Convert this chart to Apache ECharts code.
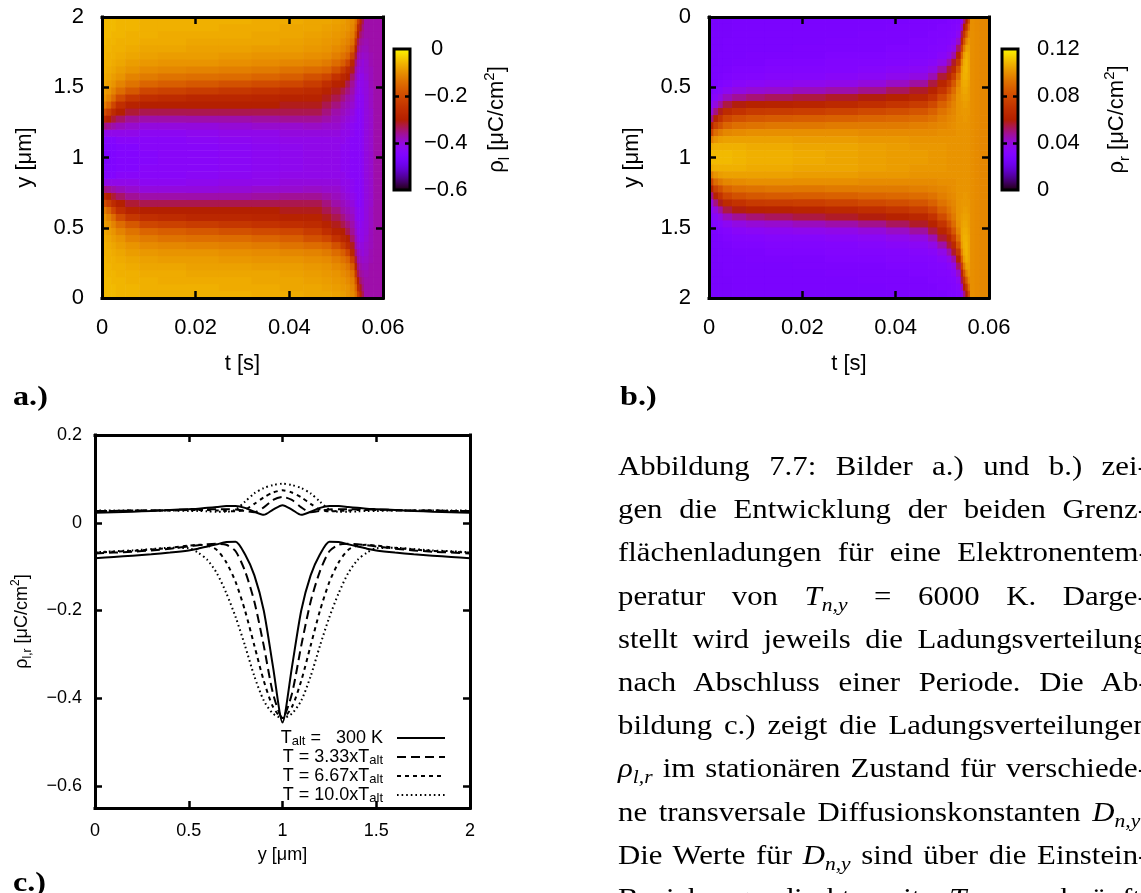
<!DOCTYPE html>
<html>
<head>
<meta charset="utf-8">
<title>Grenzflächenladungen</title>
<script src="https://cdn.jsdelivr.net/npm/echarts@6.0.0/dist/echarts.min.js"></script>
<style>
  html, body { margin: 0; padding: 0; background: #fff; overflow: hidden; width: 1141px; height: 893px; }
  #chart { position: absolute; left: 0; top: 0; width: 1141px; height: 893px; }
  .serif { font-family: "Liberation Serif", "Times New Roman", serif; color: #000; }
  #caption { position: absolute; left: 618px; top: 444px; width: 482px; font-size: 28px; line-height: 43.2px; transform: scaleX(1.1); transform-origin: 0 0; }
  #caption .ln { height: 43.2px; white-space: nowrap; }
  #caption .ln > span { display: inline-block; white-space: nowrap; }
  #caption sub { font-size: 0.7em; vertical-align: -0.32em; line-height: 0; }
  .tag { position: absolute; font-size: 28px; font-weight: bold; line-height: 28px; transform: scaleX(1.15); transform-origin: 0 0; }
</style>
</head>
<body>
<div id="chart"></div>
<div id="caption" class="serif">
  <div class="ln"><span>Abbildung 7.7: Bilder a.) und b.) zei-</span></div>
  <div class="ln"><span>gen die Entwicklung der beiden Grenz-</span></div>
  <div class="ln"><span>flächenladungen für eine Elektronentem-</span></div>
  <div class="ln"><span>peratur von <i>T</i><sub><i>n,y</i></sub> = 6000 K. Darge-</span></div>
  <div class="ln"><span>stellt wird jeweils die Ladungsverteilung</span></div>
  <div class="ln"><span>nach Abschluss einer Periode. Die Ab-</span></div>
  <div class="ln"><span>bildung c.) zeigt die Ladungsverteilungen</span></div>
  <div class="ln"><span><i>ρ</i><sub><i>l,r</i></sub> im stationären Zustand für verschiede-</span></div>
  <div class="ln"><span>ne transversale Diffusionskonstanten <i>D</i><sub><i>n,y</i></sub>.</span></div>
  <div class="ln"><span>Die Werte für <i>D</i><sub><i>n,y</i></sub> sind über die Einstein-</span></div>
  <div class="ln"><span>Beziehung direkt mit <i>T</i><sub><i>n,y</i></sub> verknüpft.</span></div>
</div>
<div class="tag serif" style="left:13px;top:382px">a.)</div>
<div class="tag serif" style="left:620px;top:382px">b.)</div>
<div class="tag serif" style="left:13px;top:868px">c.)</div>
<script>
// ---------- panels a.) and b.): interface charge maps rho(t, y) ----------
// time cell edges [s]
const tColumnEdges = [0, 0.001, 0.002, 0.003, 0.005, 0.008, 0.012, 0.018, 0.025, 0.032, 0.038, 0.043, 0.047, 0.049, 0.051, 0.052, 0.053, 0.054, 0.0545, 0.055, 0.0555, 0.056, 0.057, 0.058, 0.06];
// transversal cell edges [um]
const yRowEdges = [0, 0.05, 0.1, 0.15, 0.2, 0.25, 0.3, 0.35, 0.4, 0.45, 0.5, 0.55, 0.6, 0.65, 0.7, 0.75, 0.8, 0.85, 0.9, 0.95, 1, 1.05, 1.1, 1.15, 1.2, 1.25, 1.3, 1.35, 1.4, 1.45, 1.5, 1.55, 1.6, 1.65, 1.7, 1.75, 1.8, 1.85, 1.9, 1.95, 2];

// rho_l [uC/cm^2], one column per time cell, rows from y = 0 to y = 2 um
const rhoLeft = [
  [-0.06,-0.06,-0.06,-0.06,-0.065,-0.065,-0.07,-0.07,-0.075,-0.08,-0.09,-0.1,-0.13,-0.2,-0.28,-0.35,-0.41,-0.44,-0.45,-0.46,-0.46,-0.45,-0.44,-0.41,-0.35,-0.28,-0.2,-0.13,-0.1,-0.09,-0.08,-0.075,-0.07,-0.07,-0.065,-0.065,-0.06,-0.06,-0.06,-0.06],
  [-0.06,-0.06,-0.06,-0.065,-0.065,-0.07,-0.07,-0.075,-0.08,-0.09,-0.1,-0.12,-0.16,-0.23,-0.3,-0.36,-0.41,-0.44,-0.45,-0.455,-0.455,-0.45,-0.44,-0.41,-0.36,-0.3,-0.23,-0.16,-0.12,-0.1,-0.09,-0.08,-0.075,-0.07,-0.07,-0.065,-0.065,-0.06,-0.06,-0.06],
  [-0.06,-0.06,-0.065,-0.065,-0.07,-0.07,-0.075,-0.08,-0.09,-0.1,-0.12,-0.15,-0.21,-0.27,-0.32,-0.37,-0.41,-0.44,-0.45,-0.45,-0.45,-0.45,-0.44,-0.41,-0.37,-0.32,-0.27,-0.21,-0.15,-0.12,-0.1,-0.09,-0.08,-0.075,-0.07,-0.07,-0.065,-0.065,-0.06,-0.06],
  [-0.065,-0.065,-0.065,-0.07,-0.07,-0.075,-0.08,-0.09,-0.1,-0.12,-0.15,-0.2,-0.26,-0.3,-0.34,-0.38,-0.41,-0.43,-0.44,-0.44,-0.44,-0.44,-0.43,-0.41,-0.38,-0.34,-0.3,-0.26,-0.2,-0.15,-0.12,-0.1,-0.09,-0.08,-0.075,-0.07,-0.07,-0.065,-0.065,-0.065],
  [-0.065,-0.065,-0.07,-0.07,-0.075,-0.08,-0.09,-0.1,-0.12,-0.14,-0.18,-0.24,-0.29,-0.32,-0.36,-0.39,-0.41,-0.43,-0.44,-0.44,-0.44,-0.44,-0.43,-0.41,-0.39,-0.36,-0.32,-0.29,-0.24,-0.18,-0.14,-0.12,-0.1,-0.09,-0.08,-0.075,-0.07,-0.07,-0.065,-0.065],
  [-0.07,-0.07,-0.07,-0.075,-0.08,-0.085,-0.095,-0.11,-0.13,-0.16,-0.21,-0.26,-0.3,-0.33,-0.37,-0.4,-0.42,-0.43,-0.43,-0.435,-0.435,-0.43,-0.43,-0.42,-0.4,-0.37,-0.33,-0.3,-0.26,-0.21,-0.16,-0.13,-0.11,-0.095,-0.085,-0.08,-0.075,-0.07,-0.07,-0.07],
  [-0.07,-0.07,-0.075,-0.075,-0.08,-0.09,-0.1,-0.115,-0.14,-0.17,-0.22,-0.27,-0.3,-0.33,-0.37,-0.4,-0.42,-0.43,-0.43,-0.43,-0.43,-0.43,-0.43,-0.42,-0.4,-0.37,-0.33,-0.3,-0.27,-0.22,-0.17,-0.14,-0.115,-0.1,-0.09,-0.08,-0.075,-0.075,-0.07,-0.07],
  [-0.07,-0.07,-0.075,-0.08,-0.085,-0.09,-0.1,-0.12,-0.145,-0.18,-0.23,-0.28,-0.3,-0.33,-0.37,-0.4,-0.415,-0.425,-0.43,-0.43,-0.43,-0.43,-0.425,-0.415,-0.4,-0.37,-0.33,-0.3,-0.28,-0.23,-0.18,-0.145,-0.12,-0.1,-0.09,-0.085,-0.08,-0.075,-0.07,-0.07],
  [-0.07,-0.075,-0.075,-0.08,-0.085,-0.095,-0.105,-0.125,-0.15,-0.19,-0.24,-0.28,-0.3,-0.33,-0.37,-0.395,-0.41,-0.42,-0.425,-0.425,-0.425,-0.425,-0.42,-0.41,-0.395,-0.37,-0.33,-0.3,-0.28,-0.24,-0.19,-0.15,-0.125,-0.105,-0.095,-0.085,-0.08,-0.075,-0.075,-0.07],
  [-0.075,-0.075,-0.08,-0.08,-0.09,-0.1,-0.11,-0.13,-0.16,-0.2,-0.25,-0.285,-0.3,-0.33,-0.365,-0.39,-0.41,-0.415,-0.42,-0.42,-0.42,-0.42,-0.415,-0.41,-0.39,-0.365,-0.33,-0.3,-0.285,-0.25,-0.2,-0.16,-0.13,-0.11,-0.1,-0.09,-0.08,-0.08,-0.075,-0.075],
  [-0.075,-0.08,-0.08,-0.085,-0.09,-0.1,-0.115,-0.14,-0.17,-0.21,-0.26,-0.29,-0.31,-0.33,-0.36,-0.39,-0.4,-0.41,-0.415,-0.415,-0.415,-0.415,-0.41,-0.4,-0.39,-0.36,-0.33,-0.31,-0.29,-0.26,-0.21,-0.17,-0.14,-0.115,-0.1,-0.09,-0.085,-0.08,-0.08,-0.075],
  [-0.08,-0.08,-0.085,-0.09,-0.095,-0.105,-0.12,-0.15,-0.19,-0.23,-0.27,-0.29,-0.31,-0.33,-0.36,-0.385,-0.4,-0.41,-0.41,-0.41,-0.41,-0.41,-0.41,-0.4,-0.385,-0.36,-0.33,-0.31,-0.29,-0.27,-0.23,-0.19,-0.15,-0.12,-0.105,-0.095,-0.09,-0.085,-0.08,-0.08],
  [-0.08,-0.085,-0.09,-0.095,-0.1,-0.11,-0.13,-0.16,-0.21,-0.26,-0.29,-0.31,-0.33,-0.35,-0.37,-0.39,-0.4,-0.41,-0.41,-0.41,-0.41,-0.41,-0.41,-0.4,-0.39,-0.37,-0.35,-0.33,-0.31,-0.29,-0.26,-0.21,-0.16,-0.13,-0.11,-0.1,-0.095,-0.09,-0.085,-0.08],
  [-0.085,-0.09,-0.095,-0.1,-0.11,-0.125,-0.15,-0.19,-0.25,-0.29,-0.31,-0.33,-0.35,-0.37,-0.38,-0.39,-0.4,-0.41,-0.41,-0.41,-0.41,-0.41,-0.41,-0.4,-0.39,-0.38,-0.37,-0.35,-0.33,-0.31,-0.29,-0.25,-0.19,-0.15,-0.125,-0.11,-0.1,-0.095,-0.09,-0.085],
  [-0.09,-0.095,-0.1,-0.11,-0.12,-0.14,-0.17,-0.23,-0.28,-0.3,-0.33,-0.35,-0.37,-0.38,-0.39,-0.4,-0.41,-0.41,-0.42,-0.42,-0.42,-0.42,-0.41,-0.41,-0.4,-0.39,-0.38,-0.37,-0.35,-0.33,-0.3,-0.28,-0.23,-0.17,-0.14,-0.12,-0.11,-0.1,-0.095,-0.09],
  [-0.1,-0.1,-0.11,-0.12,-0.135,-0.16,-0.21,-0.27,-0.3,-0.33,-0.35,-0.37,-0.38,-0.39,-0.4,-0.41,-0.41,-0.42,-0.42,-0.42,-0.42,-0.42,-0.42,-0.41,-0.41,-0.4,-0.39,-0.38,-0.37,-0.35,-0.33,-0.3,-0.27,-0.21,-0.16,-0.135,-0.12,-0.11,-0.1,-0.1],
  [-0.11,-0.115,-0.125,-0.14,-0.17,-0.22,-0.28,-0.31,-0.34,-0.36,-0.37,-0.38,-0.39,-0.4,-0.41,-0.42,-0.42,-0.43,-0.43,-0.43,-0.43,-0.43,-0.43,-0.42,-0.42,-0.41,-0.4,-0.39,-0.38,-0.37,-0.36,-0.34,-0.31,-0.28,-0.22,-0.17,-0.14,-0.125,-0.115,-0.11],
  [-0.14,-0.16,-0.19,-0.24,-0.29,-0.32,-0.35,-0.37,-0.38,-0.39,-0.4,-0.41,-0.41,-0.42,-0.42,-0.43,-0.43,-0.43,-0.43,-0.43,-0.43,-0.43,-0.43,-0.43,-0.43,-0.42,-0.42,-0.41,-0.41,-0.4,-0.39,-0.38,-0.37,-0.35,-0.32,-0.29,-0.24,-0.19,-0.16,-0.14],
  [-0.22,-0.27,-0.3,-0.33,-0.35,-0.37,-0.38,-0.39,-0.4,-0.41,-0.41,-0.42,-0.42,-0.43,-0.43,-0.43,-0.43,-0.43,-0.43,-0.43,-0.43,-0.43,-0.43,-0.43,-0.43,-0.43,-0.43,-0.42,-0.42,-0.41,-0.41,-0.4,-0.39,-0.38,-0.37,-0.35,-0.33,-0.3,-0.27,-0.22],
  [-0.28,-0.31,-0.34,-0.36,-0.37,-0.38,-0.39,-0.4,-0.41,-0.41,-0.42,-0.42,-0.42,-0.43,-0.43,-0.43,-0.43,-0.43,-0.43,-0.43,-0.43,-0.43,-0.43,-0.43,-0.43,-0.43,-0.43,-0.42,-0.42,-0.42,-0.41,-0.41,-0.4,-0.39,-0.38,-0.37,-0.36,-0.34,-0.31,-0.28],
  [-0.33,-0.35,-0.36,-0.37,-0.38,-0.39,-0.4,-0.4,-0.41,-0.41,-0.41,-0.42,-0.42,-0.42,-0.42,-0.42,-0.42,-0.42,-0.42,-0.42,-0.42,-0.42,-0.42,-0.42,-0.42,-0.42,-0.42,-0.42,-0.42,-0.41,-0.41,-0.41,-0.4,-0.4,-0.39,-0.38,-0.37,-0.36,-0.35,-0.33],
  [-0.37,-0.37,-0.37,-0.375,-0.38,-0.385,-0.39,-0.39,-0.395,-0.4,-0.4,-0.4,-0.4,-0.4,-0.4,-0.4,-0.4,-0.4,-0.4,-0.4,-0.4,-0.4,-0.4,-0.4,-0.4,-0.4,-0.4,-0.4,-0.4,-0.4,-0.4,-0.395,-0.39,-0.39,-0.385,-0.38,-0.375,-0.37,-0.37,-0.37],
  [-0.37,-0.37,-0.37,-0.37,-0.37,-0.375,-0.375,-0.38,-0.38,-0.38,-0.385,-0.385,-0.385,-0.39,-0.39,-0.39,-0.39,-0.39,-0.39,-0.39,-0.39,-0.39,-0.39,-0.39,-0.39,-0.39,-0.39,-0.385,-0.385,-0.385,-0.38,-0.38,-0.38,-0.375,-0.375,-0.37,-0.37,-0.37,-0.37,-0.37],
  [-0.37,-0.37,-0.37,-0.37,-0.37,-0.37,-0.37,-0.37,-0.37,-0.37,-0.37,-0.37,-0.37,-0.37,-0.37,-0.37,-0.37,-0.37,-0.37,-0.37,-0.37,-0.37,-0.37,-0.37,-0.37,-0.37,-0.37,-0.37,-0.37,-0.37,-0.37,-0.37,-0.37,-0.37,-0.37,-0.37,-0.37,-0.37,-0.37,-0.37]
];

// rho_r [uC/cm^2], same cells
const rhoRight = [
  [0.027,0.027,0.027,0.027,0.027,0.027,0.027,0.027,0.027,0.028,0.029,0.031,0.034,0.04,0.05,0.062,0.078,0.095,0.105,0.108,0.108,0.105,0.095,0.078,0.062,0.05,0.04,0.034,0.031,0.029,0.028,0.027,0.027,0.027,0.027,0.027,0.027,0.027,0.027,0.027],
  [0.027,0.027,0.027,0.027,0.027,0.027,0.027,0.028,0.028,0.029,0.031,0.034,0.04,0.05,0.062,0.076,0.09,0.1,0.106,0.108,0.108,0.106,0.1,0.09,0.076,0.062,0.05,0.04,0.034,0.031,0.029,0.028,0.028,0.027,0.027,0.027,0.027,0.027,0.027,0.027],
  [0.027,0.027,0.027,0.027,0.027,0.028,0.028,0.028,0.029,0.03,0.033,0.038,0.047,0.058,0.07,0.082,0.094,0.102,0.106,0.108,0.108,0.106,0.102,0.094,0.082,0.07,0.058,0.047,0.038,0.033,0.03,0.029,0.028,0.028,0.028,0.027,0.027,0.027,0.027,0.027],
  [0.027,0.027,0.027,0.028,0.028,0.028,0.028,0.029,0.03,0.032,0.036,0.044,0.055,0.066,0.078,0.088,0.097,0.103,0.106,0.108,0.108,0.106,0.103,0.097,0.088,0.078,0.066,0.055,0.044,0.036,0.032,0.03,0.029,0.028,0.028,0.028,0.028,0.027,0.027,0.027],
  [0.028,0.028,0.028,0.028,0.028,0.028,0.029,0.03,0.031,0.034,0.039,0.048,0.059,0.07,0.082,0.091,0.098,0.103,0.106,0.107,0.107,0.106,0.103,0.098,0.091,0.082,0.07,0.059,0.048,0.039,0.034,0.031,0.03,0.029,0.028,0.028,0.028,0.028,0.028,0.028],
  [0.028,0.028,0.028,0.028,0.028,0.029,0.029,0.03,0.032,0.035,0.041,0.051,0.061,0.073,0.084,0.092,0.099,0.103,0.105,0.106,0.106,0.105,0.103,0.099,0.092,0.084,0.073,0.061,0.051,0.041,0.035,0.032,0.03,0.029,0.029,0.028,0.028,0.028,0.028,0.028],
  [0.028,0.028,0.028,0.028,0.028,0.029,0.03,0.031,0.033,0.036,0.042,0.053,0.062,0.074,0.085,0.093,0.099,0.103,0.105,0.106,0.106,0.105,0.103,0.099,0.093,0.085,0.074,0.062,0.053,0.042,0.036,0.033,0.031,0.03,0.029,0.028,0.028,0.028,0.028,0.028],
  [0.028,0.028,0.028,0.028,0.029,0.029,0.03,0.031,0.033,0.037,0.044,0.055,0.063,0.075,0.086,0.093,0.099,0.102,0.104,0.105,0.105,0.104,0.102,0.099,0.093,0.086,0.075,0.063,0.055,0.044,0.037,0.033,0.031,0.03,0.029,0.029,0.028,0.028,0.028,0.028],
  [0.028,0.028,0.028,0.029,0.029,0.03,0.031,0.032,0.034,0.038,0.046,0.057,0.065,0.077,0.087,0.094,0.099,0.102,0.104,0.104,0.104,0.104,0.102,0.099,0.094,0.087,0.077,0.065,0.057,0.046,0.038,0.034,0.032,0.031,0.03,0.029,0.029,0.028,0.028,0.028],
  [0.028,0.028,0.029,0.029,0.029,0.03,0.031,0.033,0.035,0.04,0.049,0.059,0.068,0.079,0.088,0.094,0.098,0.101,0.103,0.103,0.103,0.103,0.101,0.098,0.094,0.088,0.079,0.068,0.059,0.049,0.04,0.035,0.033,0.031,0.03,0.029,0.029,0.029,0.028,0.028],
  [0.028,0.029,0.029,0.029,0.03,0.031,0.032,0.034,0.037,0.043,0.053,0.061,0.071,0.081,0.089,0.094,0.098,0.101,0.102,0.102,0.102,0.102,0.101,0.098,0.094,0.089,0.081,0.071,0.061,0.053,0.043,0.037,0.034,0.032,0.031,0.03,0.029,0.029,0.029,0.028],
  [0.029,0.029,0.029,0.03,0.03,0.031,0.033,0.035,0.039,0.047,0.057,0.064,0.074,0.083,0.09,0.095,0.098,0.1,0.101,0.102,0.102,0.101,0.1,0.098,0.095,0.09,0.083,0.074,0.064,0.057,0.047,0.039,0.035,0.033,0.031,0.03,0.03,0.029,0.029,0.029],
  [0.029,0.029,0.03,0.03,0.031,0.032,0.034,0.038,0.045,0.055,0.062,0.07,0.079,0.087,0.092,0.096,0.098,0.1,0.101,0.101,0.101,0.101,0.1,0.098,0.096,0.092,0.087,0.079,0.07,0.062,0.055,0.045,0.038,0.034,0.032,0.031,0.03,0.03,0.029,0.029],
  [0.029,0.03,0.03,0.031,0.032,0.034,0.038,0.046,0.056,0.063,0.071,0.08,0.087,0.092,0.095,0.097,0.099,0.1,0.101,0.101,0.101,0.101,0.1,0.099,0.097,0.095,0.092,0.087,0.08,0.071,0.063,0.056,0.046,0.038,0.034,0.032,0.031,0.03,0.03,0.029],
  [0.03,0.03,0.031,0.032,0.034,0.038,0.046,0.056,0.063,0.072,0.081,0.088,0.092,0.095,0.097,0.098,0.099,0.1,0.1,0.1,0.1,0.1,0.1,0.099,0.098,0.097,0.095,0.092,0.088,0.081,0.072,0.063,0.056,0.046,0.038,0.034,0.032,0.031,0.03,0.03],
  [0.03,0.031,0.032,0.034,0.038,0.046,0.057,0.065,0.075,0.084,0.09,0.094,0.096,0.097,0.098,0.099,0.099,0.1,0.1,0.1,0.1,0.1,0.1,0.099,0.099,0.098,0.097,0.096,0.094,0.09,0.084,0.075,0.065,0.057,0.046,0.038,0.034,0.032,0.031,0.03],
  [0.031,0.033,0.036,0.042,0.052,0.061,0.072,0.083,0.091,0.096,0.099,0.1,0.1,0.1,0.1,0.1,0.1,0.1,0.1,0.1,0.1,0.1,0.1,0.1,0.1,0.1,0.1,0.1,0.1,0.099,0.096,0.091,0.083,0.072,0.061,0.052,0.042,0.036,0.033,0.031],
  [0.035,0.044,0.055,0.064,0.076,0.088,0.097,0.102,0.104,0.104,0.103,0.102,0.101,0.101,0.1,0.1,0.1,0.1,0.1,0.1,0.1,0.1,0.1,0.1,0.1,0.1,0.101,0.101,0.102,0.103,0.104,0.104,0.102,0.097,0.088,0.076,0.064,0.055,0.044,0.035],
  [0.05,0.06,0.07,0.082,0.094,0.102,0.105,0.106,0.106,0.105,0.104,0.103,0.102,0.101,0.101,0.1,0.1,0.1,0.1,0.1,0.1,0.1,0.1,0.1,0.1,0.101,0.101,0.102,0.103,0.104,0.105,0.106,0.106,0.105,0.102,0.094,0.082,0.07,0.06,0.05],
  [0.06,0.072,0.085,0.096,0.103,0.106,0.107,0.107,0.106,0.105,0.104,0.103,0.102,0.101,0.101,0.1,0.1,0.1,0.1,0.1,0.1,0.1,0.1,0.1,0.1,0.101,0.101,0.102,0.103,0.104,0.105,0.106,0.107,0.107,0.106,0.103,0.096,0.085,0.072,0.06],
  [0.08,0.09,0.097,0.101,0.103,0.104,0.104,0.104,0.104,0.103,0.102,0.102,0.101,0.101,0.1,0.1,0.1,0.1,0.1,0.1,0.1,0.1,0.1,0.1,0.1,0.1,0.101,0.101,0.102,0.102,0.103,0.104,0.104,0.104,0.104,0.103,0.101,0.097,0.09,0.08],
  [0.099,0.099,0.099,0.099,0.099,0.099,0.099,0.099,0.099,0.099,0.099,0.099,0.099,0.099,0.099,0.099,0.099,0.099,0.099,0.099,0.099,0.099,0.099,0.099,0.099,0.099,0.099,0.099,0.099,0.099,0.099,0.099,0.099,0.099,0.099,0.099,0.099,0.099,0.099,0.099],
  [0.098,0.098,0.098,0.098,0.098,0.098,0.098,0.098,0.098,0.098,0.098,0.098,0.098,0.098,0.098,0.098,0.098,0.098,0.098,0.098,0.098,0.098,0.098,0.098,0.098,0.098,0.098,0.098,0.098,0.098,0.098,0.098,0.098,0.098,0.098,0.098,0.098,0.098,0.098,0.098],
  [0.097,0.097,0.097,0.097,0.097,0.097,0.097,0.097,0.097,0.097,0.097,0.097,0.097,0.097,0.097,0.097,0.097,0.097,0.097,0.097,0.097,0.097,0.097,0.097,0.097,0.097,0.097,0.097,0.097,0.097,0.097,0.097,0.097,0.097,0.097,0.097,0.097,0.097,0.097,0.097]
];

// ---------- panel c.): stationary profiles rho_{l,r}(y) ----------
const yProfile = [0, 0.1, 0.2, 0.3, 0.4, 0.5, 0.55, 0.6, 0.65, 0.7, 0.75, 0.8, 0.85, 0.9, 0.95, 1.0, 1.05, 1.1, 1.15, 1.2, 1.25, 1.3, 1.35, 1.4, 1.45, 1.5, 1.6, 1.7, 1.8, 1.9, 2.0];
// rho_l
const rhoL300  = [-0.081,-0.078,-0.075,-0.072,-0.068,-0.063,-0.059,-0.054,-0.049,-0.044,-0.043,-0.072,-0.12,-0.2,-0.33,-0.455,-0.33,-0.2,-0.12,-0.072,-0.043,-0.044,-0.049,-0.054,-0.059,-0.063,-0.068,-0.072,-0.075,-0.078,-0.081];
const rhoL333  = [-0.07,-0.068,-0.066,-0.063,-0.059,-0.054,-0.051,-0.049,-0.048,-0.05,-0.065,-0.11,-0.18,-0.28,-0.39,-0.445,-0.39,-0.28,-0.18,-0.11,-0.065,-0.05,-0.048,-0.049,-0.051,-0.054,-0.059,-0.063,-0.066,-0.068,-0.07];
const rhoL667  = [-0.068,-0.066,-0.064,-0.061,-0.057,-0.052,-0.05,-0.052,-0.062,-0.09,-0.135,-0.2,-0.28,-0.36,-0.42,-0.445,-0.42,-0.36,-0.28,-0.2,-0.135,-0.09,-0.062,-0.052,-0.05,-0.052,-0.057,-0.061,-0.064,-0.066,-0.068];
const rhoL1000 = [-0.067,-0.065,-0.063,-0.06,-0.057,-0.058,-0.068,-0.085,-0.115,-0.16,-0.215,-0.28,-0.35,-0.405,-0.435,-0.445,-0.435,-0.405,-0.35,-0.28,-0.215,-0.16,-0.115,-0.085,-0.068,-0.058,-0.057,-0.06,-0.063,-0.065,-0.067];
// rho_r
const rhoR300  = [0.023,0.024,0.025,0.027,0.029,0.031,0.032,0.034,0.036,0.038,0.038,0.034,0.025,0.018,0.03,0.04,0.03,0.018,0.025,0.034,0.038,0.038,0.036,0.034,0.032,0.031,0.029,0.027,0.025,0.024,0.023];
const rhoR333  = [0.027,0.027,0.028,0.028,0.029,0.03,0.03,0.031,0.031,0.031,0.03,0.027,0.024,0.035,0.052,0.059,0.052,0.035,0.024,0.027,0.03,0.031,0.031,0.031,0.03,0.03,0.029,0.028,0.028,0.027,0.027];
const rhoR667  = [0.027,0.027,0.028,0.028,0.028,0.029,0.029,0.029,0.028,0.027,0.026,0.03,0.043,0.058,0.069,0.074,0.069,0.058,0.043,0.03,0.026,0.027,0.028,0.029,0.029,0.029,0.028,0.028,0.028,0.027,0.027];
const rhoR1000 = [0.028,0.028,0.028,0.028,0.028,0.027,0.027,0.026,0.025,0.025,0.03,0.048,0.067,0.079,0.086,0.089,0.086,0.079,0.067,0.048,0.03,0.025,0.025,0.026,0.027,0.027,0.028,0.028,0.028,0.028,0.028];

// tick values
const tTicks = [0, 0.02, 0.04, 0.06];
const yTicks = [0, 0.5, 1, 1.5, 2];
const rhoLScaleTicks = [-0.6, -0.4, -0.2, 0];
const rhoRScaleTicks = [0, 0.04, 0.08, 0.12];
const profileYTicks = [-0.6, -0.4, -0.2, 0, 0.2];
const profileXTicks = [0, 0.5, 1, 1.5, 2];

const seriesNames = ['T_alt = 300 K', 'T = 3.33xT_alt', 'T = 6.67xT_alt', 'T = 10.0xT_alt'];
const legendText = {
  'T_alt = 300 K': '{t|T}{s|alt}{t| =   300 K}',
  'T = 3.33xT_alt': '{t|T = 3.33xT}{s|alt}',
  'T = 6.67xT_alt': '{t|T = 6.67xT}{s|alt}',
  'T = 10.0xT_alt': '{t|T = 10.0xT}{s|alt}'
};

// ---------- drawing ----------
const SANS = '"Liberation Sans", Arial, Helvetica, sans-serif';

// gnuplot default pm3d palette (rgbformulae 7,5,15)
function pm3dColor(x) {
  const r = Math.sqrt(x), g = x * x * x, b = Math.max(0, Math.sin(2 * Math.PI * x));
  return 'rgb(' + Math.round(r * 255) + ',' + Math.round(g * 255) + ',' + Math.round(b * 255) + ')';
}
const palette = [];
for (let i = 0; i <= 64; i++) palette.push(pm3dColor(i / 64));
const barGradient = () => new echarts.graphic.LinearGradient(0, 1, 0, 0,
  palette.map((c, i) => ({ offset: i / 64, color: c })));

const fmtNum = v => (v < 0 ? '\u2212' + String(-v) : String(v));
// colour-bar labels: the minus sign hangs to the left of the number column
const fmtScale = v => (v < 0 ? '\u2212' + String(-v) : '{z|' + String(v) + '}');

function richName(fs) {
  const sub = Math.round(fs * 0.68);
  return {
    fontFamily: SANS, fontSize: fs, color: '#000',
    rich: {
      t: { fontFamily: SANS, fontSize: fs, color: '#000', lineHeight: Math.round(fs * 1.35) },
      sub: { fontFamily: SANS, fontSize: sub, color: '#000', verticalAlign: 'bottom', lineHeight: sub },
      sup: { fontFamily: SANS, fontSize: sub, color: '#000', verticalAlign: 'top', lineHeight: sub }
    }
  };
}

function axis(o) {
  return {
    type: 'value', gridIndex: o.grid, position: o.pos, min: o.min, max: o.max,
    inverse: !!o.inverse, z: 10, show: o.show !== false,
    axisLine: { show: o.line !== false, onZero: false, lineStyle: { color: '#000', width: 3, cap: 'square' } },
    axisTick: { show: !!o.ticks, inside: true, length: o.tickLen || 7, customValues: o.ticks,
                lineStyle: { color: '#000', width: 2.5 } },
    axisLabel: { show: !!o.labels, customValues: o.labels, margin: o.margin, fontSize: o.fs,
                 fontFamily: SANS, color: '#000', formatter: o.fmt || fmtNum,
                 rich: { z: { fontFamily: SANS, fontSize: o.fs, color: '#000', padding: [0, 0, 0, o.zeroPad || 0] } } },
    splitLine: { show: false },
    name: o.name || '', nameLocation: 'middle', nameGap: o.nameGap, nameRotate: o.nameRotate,
    nameTextStyle: o.nameStyle || { fontFamily: SANS, fontSize: o.fs, color: '#000' }
  };
}

function mapSeries(xi, yi, cols) {
  const cells = [];
  for (let c = 0; c < cols.length; c++) {
    for (let r = 0; r < cols[c].length; r++) {
      cells.push([tColumnEdges[c], tColumnEdges[c + 1], yRowEdges[r], yRowEdges[r + 1], cols[c][r]]);
    }
  }
  return {
    type: 'custom', xAxisIndex: xi, yAxisIndex: yi, z: 1, clip: true, silent: true,
    dimensions: ['t0', 't1', 'y0', 'y1', 'rho'],
    encode: { x: [0, 1], y: [2, 3] },
    data: cells,
    renderItem(params, api) {
      const p = api.coord([api.value(0), api.value(2)]);
      const q = api.coord([api.value(1), api.value(3)]);
      const x = Math.min(p[0], q[0]), y = Math.min(p[1], q[1]);
      return {
        type: 'rect',
        shape: { x: x - 0.3, y: y - 0.3, width: Math.abs(q[0] - p[0]) + 0.6, height: Math.abs(q[1] - p[1]) + 0.6 },
        style: { fill: api.visual('color') }
      };
    }
  };
}

const lineStyles = [
  { type: 'solid' },
  { type: [9, 5] },
  { type: [4, 4] },
  { type: [1.6, 3] }
];
const lowerProfiles = [rhoL300, rhoL333, rhoL667, rhoL1000];
const upperProfiles = [rhoR300, rhoR333, rhoR667, rhoR1000];
const profileSeries = [];
[lowerProfiles, upperProfiles].forEach(set => {
  set.forEach((vals, k) => {
    profileSeries.push({
      type: 'line', name: seriesNames[k], xAxisIndex: 6, yAxisIndex: 8, z: 3,
      data: yProfile.map((y, i) => [y, vals[i]]),
      symbol: 'none', smooth: 0.25, clip: true,
      lineStyle: Object.assign({ color: '#000', width: 2 }, lineStyles[k]),
      itemStyle: { color: '#000', opacity: 0 }
    });
  });
});

const chart = echarts.init(document.getElementById('chart'), null, { renderer: 'canvas' });
chart.setOption({
  animation: false,
  backgroundColor: '#fff',
  textStyle: { fontFamily: SANS },
  grid: [
    { left: 102, top: 17, width: 281, height: 281 },
    { left: 394, top: 49, width: 16, height: 141, show: true, borderColor: '#000', borderWidth: 3, backgroundColor: barGradient() },
    { left: 709, top: 17, width: 280, height: 281 },
    { left: 1002, top: 49, width: 16, height: 141, show: true, borderColor: '#000', borderWidth: 3, backgroundColor: barGradient() },
    { left: 95, top: 435, width: 375, height: 373 }
  ],
  xAxis: [
    axis({ grid: 0, pos: 'bottom', min: 0, max: 0.06, ticks: tTicks, labels: tTicks, margin: 19, fs: 22, name: 't [s]', nameGap: 55 }),
    axis({ grid: 0, pos: 'top', min: 0, max: 0.06, ticks: tTicks }),
    { type: 'value', gridIndex: 1, show: false, min: 0, max: 1 },
    axis({ grid: 2, pos: 'bottom', min: 0, max: 0.06, ticks: tTicks, labels: tTicks, margin: 19, fs: 22, name: 't [s]', nameGap: 55 }),
    axis({ grid: 2, pos: 'top', min: 0, max: 0.06, ticks: tTicks }),
    { type: 'value', gridIndex: 3, show: false, min: 0, max: 1 },
    axis({ grid: 4, pos: 'bottom', min: 0, max: 2, ticks: profileXTicks, labels: profileXTicks, margin: 14, fs: 18, name: 'y [\u03bcm]', nameGap: 38 }),
    axis({ grid: 4, pos: 'top', min: 0, max: 2, ticks: profileXTicks })
  ],
  yAxis: [
    axis({ grid: 0, pos: 'left', min: 0, max: 2, ticks: yTicks, labels: yTicks, margin: 18, fs: 22, name: 'y [\u03bcm]', nameGap: 66, nameRotate: 90 }),
    axis({ grid: 0, pos: 'right', min: 0, max: 2, ticks: yTicks }),
    axis({ grid: 1, pos: 'right', min: -0.6, max: 0, line: false, ticks: [-0.4, -0.2], tickLen: 5, labels: rhoLScaleTicks, margin: 14, fs: 22,
           fmt: fmtScale, zeroPad: 7,
           name: '{t|\u03c1}{sub|l}{t| [\u03bcC/cm}{sup|2}{t|]}', nameGap: 72, nameRotate: 90, nameStyle: richName(22) }),
    axis({ grid: 1, pos: 'left', min: -0.6, max: 0, line: false, ticks: [-0.4, -0.2], tickLen: 5 }),
    axis({ grid: 2, pos: 'left', min: 0, max: 2, inverse: true, ticks: yTicks, labels: yTicks, margin: 18, fs: 22, name: 'y [\u03bcm]', nameGap: 66, nameRotate: 90 }),
    axis({ grid: 2, pos: 'right', min: 0, max: 2, inverse: true, ticks: yTicks }),
    axis({ grid: 3, pos: 'right', min: 0, max: 0.12, line: false, ticks: [0.04, 0.08], tickLen: 5, labels: rhoRScaleTicks, margin: 19, fs: 22,
           name: '{t|\u03c1}{sub|r}{t| [\u03bcC/cm}{sup|2}{t|]}', nameGap: 84, nameRotate: 90, nameStyle: richName(22) }),
    axis({ grid: 3, pos: 'left', min: 0, max: 0.12, line: false, ticks: [0.04, 0.08], tickLen: 5 }),
    axis({ grid: 4, pos: 'left', min: -0.65, max: 0.2, ticks: profileYTicks, labels: profileYTicks, margin: 13, fs: 18,
           name: '{t|\u03c1}{sub|l,r}{t| [\u03bcC/cm}{sup|2}{t|]}', nameGap: 61, nameRotate: 90, nameStyle: richName(18) }),
    axis({ grid: 4, pos: 'right', min: -0.65, max: 0.2, ticks: profileYTicks })
  ],
  visualMap: [
    { type: 'continuous', show: false, seriesIndex: 0, dimension: 4, min: -0.6, max: 0, inRange: { color: palette } },
    { type: 'continuous', show: false, seriesIndex: 1, dimension: 4, min: 0, max: 0.12, inRange: { color: palette } }
  ],
  legend: {
    show: true, orient: 'vertical', align: 'right', right: 1141 - 446, top: 729,
    itemWidth: 48, itemHeight: 4, itemGap: 0, selectedMode: false, padding: 0,
    itemStyle: { opacity: 0 },
    data: seriesNames,
    formatter: n => legendText[n],
    textStyle: {
      fontFamily: SANS, fontSize: 18, color: '#000', padding: [0, 9, 0, 0],
      rich: {
        t: { fontFamily: SANS, fontSize: 18, color: '#000', lineHeight: 20 },
        s: { fontFamily: SANS, fontSize: 13, color: '#000', verticalAlign: 'bottom', lineHeight: 12 }
      }
    }
  },
  series: [mapSeries(0, 0, rhoLeft), mapSeries(3, 4, rhoRight)].concat(profileSeries)
});

// justify caption lines to the column width
const CAPTION_W = 482;
function justifyCaption() {
  document.querySelectorAll('#caption .ln > span').forEach(span => {
    span.style.wordSpacing = '0px';
    const natural = span.offsetWidth;
    const gaps = (span.textContent.match(/ /g) || []).length;
    if (gaps > 0) span.style.wordSpacing = ((CAPTION_W - natural) / gaps) + 'px';
  });
}
justifyCaption();
if (document.fonts && document.fonts.ready) document.fonts.ready.then(justifyCaption);
</script>
</body>
</html>
